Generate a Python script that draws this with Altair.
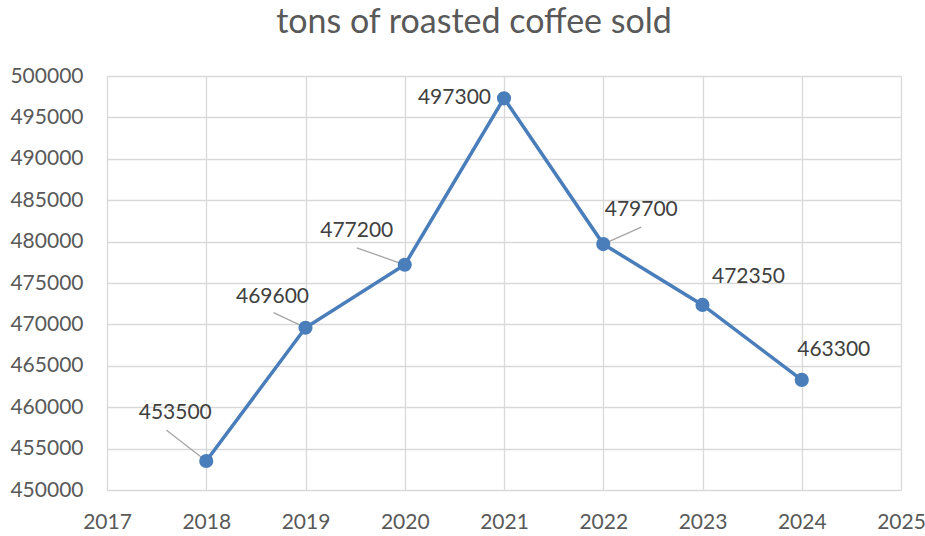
import altair as alt
import pandas as pd

# Annual tonnage of roasted coffee sold
years = [2018, 2019, 2020, 2021, 2022, 2023, 2024]
tons = [453500, 469600, 477200, 497300, 479700, 472350, 463300]

x_ticks = list(range(2017, 2026))
y_ticks = list(range(450000, 500001, 5000))

df = pd.DataFrame({"year": years, "tons": tons})

BLUE = "#4a7ebb"
FONT = "Lato"

x_enc = alt.X(
    "year:Q",
    scale=alt.Scale(domain=[2017, 2025], nice=False, zero=False),
    axis=alt.Axis(values=x_ticks, format="d", title=None, labelFlush=False),
)
y_enc = alt.Y(
    "tons:Q",
    scale=alt.Scale(domain=[450000, 500000], nice=False, zero=False),
    axis=alt.Axis(values=y_ticks, format="d", title=None, labelFlush=False),
)

base = alt.Chart(df).encode(x=x_enc, y=y_enc)

line = base.mark_line(color=BLUE, strokeWidth=3.5)

# Leader lines joining data labels to their points (pixel offsets of the far end)
leader_offsets = {2018: (-40, -31), 2019: (-32, -15), 2020: (-48, -17), 2022: (38, -17)}
leaders = [
    base.transform_filter(alt.datum.year == yr)
    .mark_rule(color="#a6a6a6", strokeWidth=1.3, xOffset=dx, yOffset=dy)
    .encode(x2="year:Q", y2="tons:Q")
    for yr, (dx, dy) in leader_offsets.items()
]

points = base.mark_circle(color=BLUE, size=200, opacity=1)

# Data label placement per point: (align, dx, dy)
label_place = {
    2018: ("center", -31, -48),
    2019: ("center", -33, -31),
    2020: ("center", -48, -34),
    2021: ("right", -13, 0),
    2022: ("center", 38, -34),
    2023: ("center", 46, -28),
    2024: ("center", 32, -30),
}
labels = [
    base.transform_filter(alt.datum.year == yr)
    .mark_text(
        align=al, baseline="middle", dx=dx, dy=dy,
        font=FONT, fontSize=21, color="#404040",
    )
    .encode(text=alt.Text("tons:Q", format="d"))
    for yr, (al, dx, dy) in label_place.items()
]

chart = (
    alt.layer(line, *leaders, points, *labels)
    .properties(
        width=794,
        height=414,
        autosize=alt.AutoSizeParams(type="none"),
        padding={"left": 107, "top": 76, "right": 24, "bottom": 46},
        title=alt.TitleParams(
            "tons of roasted coffee sold",
            font=FONT,
            fontSize=34,
            fontWeight="normal",
            color="#595959",
            anchor="middle",
            frame="group",
            baseline="alphabetic",
            offset=2,
            dx=-30,
            dy=4,
        ),
    )
    .configure_view(stroke=None)
    .configure_axis(
        domain=False,
        ticks=False,
        grid=True,
        gridColor="#d9d9d9",
        gridWidth=1.3,
        labelFont=FONT,
        labelFontSize=21,
        labelColor="#595959",
    )
    .configure_axisX(labelPadding=21)
    .configure_axisY(labelPadding=24)
)

chart.save("out.html", embed_options={"renderer": "svg", "actions": False})
